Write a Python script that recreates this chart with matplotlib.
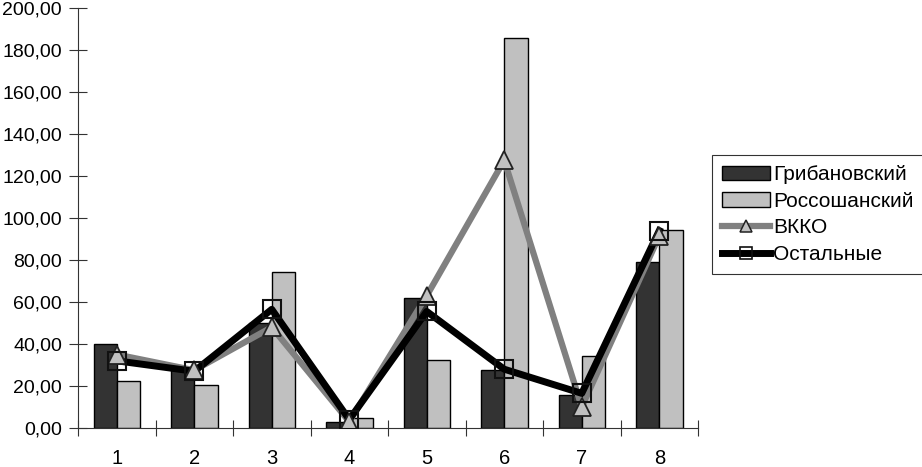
import matplotlib
matplotlib.use("Agg")
import matplotlib.pyplot as plt
import numpy as np
from matplotlib.ticker import FuncFormatter, FixedLocator
from matplotlib.lines import Line2D
from matplotlib.patches import Patch

plt.rcParams['font.family'] = ['Liberation Sans', 'DejaVu Sans']

categories = ["1", "2", "3", "4", "5", "6", "7", "8"]
gribanovsky = [40, 28, 50, 3, 62, 27.5, 15.5, 79]
rossoshansky = [22.5, 20.5, 74.5, 5, 32.5, 185.5, 34.5, 94.5]
vkko = [35, 27.5, 48, 3, 63, 127.5, 10, 91.5]
ostalnye = [32, 27, 56.5, 4, 55.5, 28, 16.5, 94]
yticks = [0, 20, 40, 60, 80, 100, 120, 140, 160, 180, 200]

fig = plt.figure(figsize=(9.22, 4.67), dpi=100)
ax = fig.add_axes([78/922, (467-428)/467, (698-78)/922, (428-8)/467])

x = np.arange(len(categories))
w = 0.3
ax.bar(x - w/2, gribanovsky, w, color='#333333', edgecolor='black', linewidth=1.0,
       label='Грибановский', zorder=2)
ax.bar(x + w/2, rossoshansky, w, color='#c0c0c0', edgecolor='black', linewidth=1.0,
       label='Россошанский', zorder=2)

ax.plot(x, vkko, color='#808080', linewidth=4.5, zorder=3, solid_joinstyle='round')
ax.plot(x, ostalnye, color='black', linewidth=5, zorder=4, solid_joinstyle='round')
ax.plot(x, vkko, linestyle='none', marker='^', markersize=13, markerfacecolor='#c0c0c0',
        markeredgecolor='#222222', markeredgewidth=1.3, zorder=5)
ax.plot(x, ostalnye, linestyle='none', marker='s', markersize=13, markerfacecolor='none',
        markeredgecolor='#111111', markeredgewidth=1.5, zorder=6)

handles = [
    Patch(facecolor='#333333', edgecolor='black', linewidth=1.0),
    Patch(facecolor='#c0c0c0', edgecolor='black', linewidth=1.0),
    Line2D([], [], color='#808080', linewidth=4.5, marker='^', markersize=9,
           markerfacecolor='#c0c0c0', markeredgecolor='#222222', markeredgewidth=1.1),
    Line2D([], [], color='black', linewidth=5, marker='s', markersize=9,
           markerfacecolor='none', markeredgecolor='#111111', markeredgewidth=1.2),
]
labels = ['Грибановский', 'Россошанский', 'ВККО', 'Остальные']
leg = fig.legend(handles, labels, loc='upper left',
                 bbox_to_anchor=(712/922, 1 - 155/467), bbox_transform=fig.transFigure,
                 frameon=True, fancybox=False, edgecolor='black', fontsize=15,
                 handlelength=2.3, handletextpad=0.12, labelspacing=0.36,
                 borderpad=0.5, borderaxespad=0)
leg.get_frame().set_linewidth(0.8)

ax.set_xlim(-0.5, len(categories) - 0.5)
ax.set_ylim(0, 200)
ax.set_yticks(yticks)
ax.yaxis.set_major_formatter(FuncFormatter(lambda v, p: f"{v:.2f}".replace('.', ',')))
ax.set_xticks(x)
ax.set_xticklabels(categories)
ax.xaxis.set_minor_locator(FixedLocator(np.arange(-0.5, len(categories), 1.0)))
ax.tick_params(axis='x', which='major', length=0, pad=15, labelsize=14.5)
ax.tick_params(axis='x', which='minor', length=12, direction='inout', width=0.8, color='#333333')
ax.tick_params(axis='y', which='major', length=13, direction='inout', width=0.8, color='#333333',
               labelsize=14, pad=5)

for s in ['top', 'right']:
    ax.spines[s].set_visible(False)
for s in ['left', 'bottom']:
    ax.spines[s].set_linewidth(0.8)
    ax.spines[s].set_color('#333333')

fig.savefig('out.png', dpi=100)
